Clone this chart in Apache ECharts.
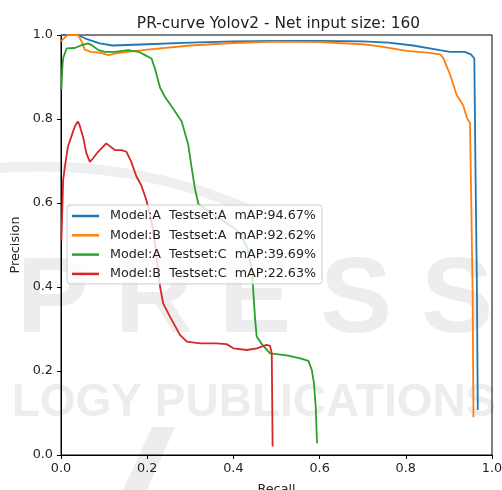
<!DOCTYPE html>
<html>
<head>
<meta charset="utf-8">
<script src="https://cdn.jsdelivr.net/npm/echarts@6/dist/echarts.min.js"></script>
<style>
  html, body { margin: 0; padding: 0; background: #fff; }
  #chart { width: 502px; height: 490px; }
</style>
</head>
<body>
<div id="chart"></div>
<script>
// series names
const seriesNames = [
  'Model:A  Testset:A  mAP:94.67%',
  'Model:B  Testset:A  mAP:92.62%',
  'Model:A  Testset:C  mAP:39.69%',
  'Model:B  Testset:C  mAP:22.63%'
];
const tickLabels = ['0.0', '0.2', '0.4', '0.6', '0.8', '1.0'];

// [recall, precision]
const modelAtestA = [
  [0.0, 1.0], [0.04, 1.0], [0.06, 0.99], [0.09, 0.98], [0.12, 0.975], [0.2, 0.978],
  [0.3, 0.982], [0.4, 0.985], [0.5, 0.986], [0.6, 0.986], [0.7, 0.985], [0.76, 0.982],
  [0.817, 0.975], [0.879, 0.964], [0.903, 0.96], [0.937, 0.96], [0.951, 0.954],
  [0.959, 0.944], [0.962, 0.651], [0.965, 0.4], [0.967, 0.107]
];
const modelBtestA = [
  [0.0, 0.985], [0.005, 0.99], [0.015, 1.0], [0.04, 1.0], [0.05, 0.98], [0.055, 0.965],
  [0.07, 0.96], [0.09, 0.958], [0.11, 0.952], [0.13, 0.957], [0.2, 0.965], [0.3, 0.975],
  [0.4, 0.981], [0.5, 0.984], [0.6, 0.983], [0.7, 0.978], [0.74, 0.973], [0.802, 0.962],
  [0.85, 0.958], [0.88, 0.954], [0.887, 0.945], [0.903, 0.905], [0.918, 0.857],
  [0.933, 0.833], [0.942, 0.802], [0.949, 0.79], [0.951, 0.66], [0.955, 0.39], [0.957, 0.09]
];
const modelAtestC = [
  [0.001, 0.87], [0.003, 0.92], [0.005, 0.945], [0.013, 0.968], [0.032, 0.969],
  [0.048, 0.976], [0.063, 0.98], [0.071, 0.976], [0.087, 0.964], [0.102, 0.96],
  [0.125, 0.96], [0.156, 0.964], [0.18, 0.96], [0.195, 0.952], [0.21, 0.944],
  [0.218, 0.92], [0.23, 0.874], [0.241, 0.853], [0.26, 0.825], [0.28, 0.794],
  [0.295, 0.74], [0.303, 0.685], [0.311, 0.633], [0.319, 0.597], [0.362, 0.567],
  [0.408, 0.536], [0.432, 0.495], [0.443, 0.44], [0.446, 0.393], [0.45, 0.329],
  [0.454, 0.282], [0.466, 0.264], [0.485, 0.242], [0.524, 0.237], [0.555, 0.23],
  [0.574, 0.224], [0.582, 0.202], [0.587, 0.17], [0.591, 0.115], [0.594, 0.028]
];
const modelBtestC = [
  [0.001, 0.51], [0.005, 0.655], [0.009, 0.686], [0.016, 0.734], [0.024, 0.758],
  [0.032, 0.782], [0.039, 0.794], [0.043, 0.786], [0.051, 0.758], [0.059, 0.718],
  [0.067, 0.698], [0.074, 0.706], [0.086, 0.722], [0.105, 0.742], [0.125, 0.726],
  [0.14, 0.726], [0.152, 0.722], [0.163, 0.698], [0.175, 0.663], [0.186, 0.643],
  [0.198, 0.607], [0.206, 0.575], [0.213, 0.54], [0.218, 0.504], [0.224, 0.45],
  [0.23, 0.4], [0.237, 0.361], [0.253, 0.329], [0.276, 0.286], [0.292, 0.27],
  [0.323, 0.266], [0.36, 0.266], [0.384, 0.264], [0.4, 0.254], [0.431, 0.25],
  [0.454, 0.254], [0.477, 0.262], [0.485, 0.26], [0.489, 0.242], [0.491, 0.02]
];

const colors = ['#1f77b4', '#ff7f0e', '#2ca02c', '#d62728'];
const curves = [modelAtestA, modelBtestA, modelAtestC, modelBtestC];

const chart = echarts.init(document.getElementById('chart'));
const font = 'DejaVu Sans';

// faint publisher watermark behind the plot
const wmColor = '#ededed';
const wmLetters = ['P', 'R', 'E', 'S', 'S'];
const watermark = wmLetters.map((ch, i) => ({
  type: 'text', z: -10, silent: true,
  x: 53 + i * 101, y: 248,
  style: { text: ch, fill: wmColor, font: 'bold 108px "Liberation Sans"', textAlign: 'center' }
})).concat([
  {
    type: 'text', z: -10, silent: true, x: 254, y: 380,
    style: { text: 'LOGY PUBLICATIONS', fill: wmColor, font: 'bold 46px "Liberation Sans"', textAlign: 'center' }
  },
  {
    type: 'polygon', z: -10, silent: true,
    shape: { points: [[152, 427], [175, 427], [147, 490], [123, 490]] },
    style: { fill: wmColor }
  },
  {
    type: 'bezierCurve', z: -10, silent: true,
    shape: { x1: 0, y1: 168, cpx1: 110, cpy1: 160, cpx2: 220, cpy2: 185, x2: 300, y2: 238 },
    style: { stroke: '#efefef', lineWidth: 10, fill: null }
  }
]);

const axisCommon = {
  type: 'value',
  min: 0,
  max: 1,
  interval: 0.2,
  axisLine: { show: true, lineStyle: { color: '#000', width: 1 } },
  axisTick: { show: true, length: 4, lineStyle: { color: '#000' } },
  axisLabel: {
    fontFamily: font, fontSize: 12.8, color: '#222',
    formatter: v => tickLabels[Math.round(v / 0.2)]
  },
  splitLine: { show: false },
  nameTextStyle: { fontFamily: font, fontSize: 12.8, color: '#222' }
};

chart.setOption({
  animation: false,
  color: colors,
  graphic: watermark,
  title: {
    text: 'PR-curve Yolov2 - Net input size: 160',
    left: 273.5,
    top: 11,
    textAlign: 'center',
    textStyle: { fontFamily: font, fontSize: 15.4, fontWeight: 'normal', color: '#222' }
  },
  grid: {
    left: 61, right: 10, top: 35, bottom: 35,
    outerBoundsMode: 'none',
    containLabel: false,
    show: true, borderColor: '#000', borderWidth: 1
  },
  xAxis: Object.assign({}, axisCommon, {
    name: 'Recall', nameLocation: 'middle', nameGap: 28,
    axisLabel: Object.assign({}, axisCommon.axisLabel, { margin: 7 })
  }),
  yAxis: Object.assign({}, axisCommon, {
    name: 'Precision', nameLocation: 'middle', nameGap: 32,
    axisLabel: Object.assign({}, axisCommon.axisLabel, { margin: 8 })
  }),
  legend: {
    orient: 'vertical',
    left: 67,
    top: 205,
    padding: [4, 6, 3, 5],
    itemGap: 5.3,
    itemWidth: 27,
    itemHeight: 2.5,
    icon: 'rect',
    backgroundColor: 'rgba(255,255,255,0.8)',
    borderColor: '#cccccc',
    borderWidth: 1,
    borderRadius: 3,
    textStyle: { fontFamily: font, fontSize: 12.7, color: '#222', lineHeight: 14, padding: [0, 0, 0, 6] },
    data: seriesNames
  },
  series: curves.map((d, i) => ({
    name: seriesNames[i],
    type: 'line',
    data: d,
    showSymbol: false,
    symbol: 'none',
    lineStyle: { width: 1.8, color: colors[i] },
    itemStyle: { color: colors[i] }
  }))
});
</script>
</body>
</html>
